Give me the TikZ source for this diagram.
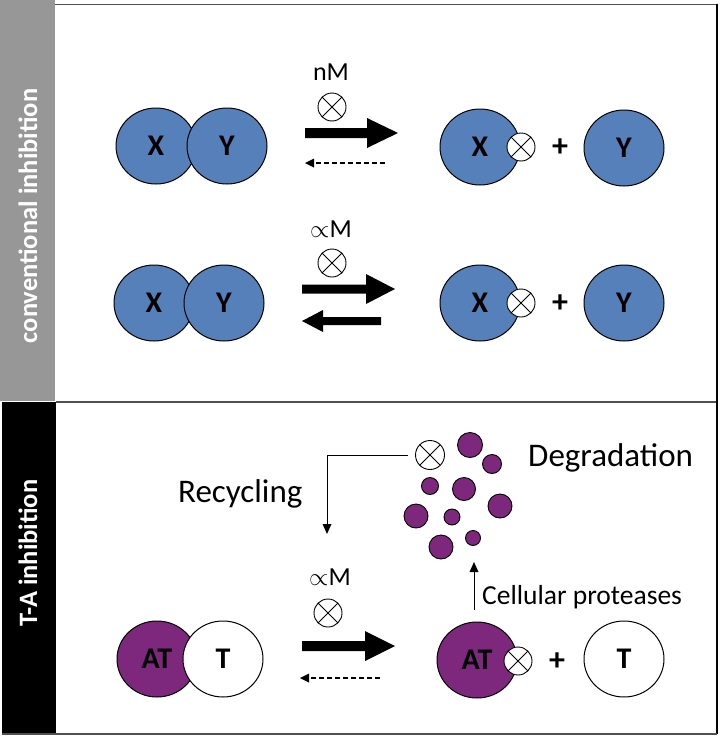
\documentclass[tikz,border=0pt]{standalone}
\usepackage{fontspec}
\setmainfont{Carlito}
\usepackage{tikz}
\usetikzlibrary{shapes.geometric,positioning}
\definecolor{protblue}{RGB}{86,128,186}
\definecolor{protpurple}{RGB}{125,40,125}
\definecolor{bargray}{RGB}{151,151,151}
\definecolor{framegray}{RGB}{80,80,80}

\begin{document}
\begin{tikzpicture}[x=1pt,y=1pt]
\tikzstyle{every node}+=[inner sep=0pt]
\tikzstyle{prot}=[ellipse,draw=black,line width=1pt,minimum width=80pt,minimum height=76pt,font=\fontsize{30}{34}\selectfont\bfseries]
\tikzstyle{inhib}=[circle,draw=black,fill=white,line width=0.9pt,minimum size=28pt,path picture={\draw[line width=0.9pt] (path picture bounding box.north west) -- (path picture bounding box.south east) (path picture bounding box.north east) -- (path picture bounding box.south west);}]
\tikzstyle{dot}=[circle,draw=black,fill=protpurple,line width=0.9pt]
\tikzstyle{lbl}=[font=\fontsize{26}{30}\selectfont]
\tikzstyle{plus}=[font=\fontsize{32}{34}\selectfont\bfseries]
\tikzstyle{sidelbl}=[rotate=90,text=white,font=\fontsize{26.5}{30}\selectfont\bfseries]
\useasboundingbox (0,0) rectangle (720,-736);
% side bars and frame
\fill [bargray] (0,0) rectangle (55,-401);
\fill [black] (2,-402) rectangle (56,-733);
\node [sidelbl] (convlbl) at (28,-216) {conventional inhibition};
\node [sidelbl] (talbl) at (28,-553) {T-A inhibition};
\draw [framegray,line width=1.8pt] (55,-4.5) -- (717,-4.5);
\draw [framegray,line width=1.8pt] (56,-402) -- (717,-402);
\draw [black,line width=1.2pt] (717,-4) -- (717,-734);
\draw [framegray,line width=1.2pt] (2,-734) -- (717,-734);
% row 1
\node [prot,fill=protblue] (x1) at (156,-146) {X};
\node [prot,fill=protblue] (y1) at (227,-146) {Y};
\node [lbl] (nm1) at (331,-72) {nM};
\node [inhib] (i1) at (332,-107) {};
\fill [black] (305,-128) -- (367,-128) -- (367,-118) -- (398,-133) -- (367,-148) -- (367,-138) -- (305,-138) -- cycle;
\coordinate (b1s) at (385,-163);
\coordinate (b1e) at (313,-163);
\draw [black,line width=1.1pt,dash pattern=on 5pt off 3pt] (b1s) -- (b1e);
\fill [black] (305,-163) -- (314,-158.5) -- (314,-167.5) -- cycle;
\node [prot,fill=protblue] (x1p) at (480,-147) {X};
\node [inhib] (i1p) at (521,-147) {};
\node [plus] (p1) at (560,-148) {+};
\node [prot,fill=protblue] (y1p) at (624,-148) {Y};
% row 2
\node [prot,fill=protblue] (x2) at (154,-303) {X};
\node [prot,fill=protblue] (y2) at (224,-303) {Y};
\node [lbl] (um2) at (331,-229) {\(\propto\)M};
\node [inhib] (i2) at (332,-263) {};
\fill [black] (302,-284.5) -- (366,-284.5) -- (366,-274) -- (395,-289) -- (366,-304) -- (366,-293.5) -- (302,-293.5) -- cycle;
\fill [black] (381,-317) -- (323,-317) -- (323,-310) -- (302,-321) -- (323,-332) -- (323,-325) -- (381,-325) -- cycle;
\node [prot,fill=protblue] (x2p) at (480,-303) {X};
\node [inhib] (i2p) at (521,-303) {};
\node [plus] (p2) at (560,-304) {+};
\node [prot,fill=protblue] (y2p) at (624,-303) {Y};
% T-A row
\node [prot,fill=protpurple] (at) at (157,-659) {AT};
\node [prot,fill=white] (t) at (223,-659) {T};
\node [lbl] (um3) at (330,-577) {\(\propto\)M};
\node [inhib] (i3) at (328,-613) {};
\fill [black] (302,-641) -- (365,-641) -- (365,-631) -- (395,-646) -- (365,-661) -- (365,-651) -- (302,-651) -- cycle;
\coordinate (b3s) at (380,-678);
\coordinate (b3e) at (308,-678);
\draw [black,line width=1.1pt,dash pattern=on 5pt off 3pt] (b3s) -- (b3e);
\fill [black] (300,-678) -- (309,-673.5) -- (309,-682.5) -- cycle;
\node [prot,fill=protpurple] (atp) at (477,-660) {AT};
\node [inhib] (i3p) at (518,-661) {};
\node [plus] (p3) at (557,-662) {+};
\node [prot,fill=white] (tp) at (624,-659) {T};
% degradation
\node [inhib,minimum size=29pt] (dg) at (430,-455) {};
\node [dot,minimum size=25pt] (d1) at (470,-445) {};
\node [dot,minimum size=19pt] (d2) at (492,-464) {};
\node [dot,minimum size=17pt] (d3) at (430,-486) {};
\node [dot,minimum size=23pt] (d4) at (464,-489) {};
\node [dot,minimum size=24pt] (d5) at (500,-506) {};
\node [dot,minimum size=24pt] (d6) at (416,-516) {};
\node [dot,minimum size=16pt] (d7) at (452,-517) {};
\node [dot,minimum size=24pt] (d8) at (441,-547) {};
\node [dot,minimum size=15pt] (d9) at (473,-538) {};
\node [anchor=west,font=\fontsize{33}{38}\selectfont] (deg) at (528,-458) {Degradation};
\node [anchor=base west,font=\fontsize{33}{38}\selectfont] (rec) at (178,-502) {Recycling};
\coordinate (rc) at (327,-525);
\draw [black,line width=0.9pt] ([xshift=-7pt]dg.west) -- (327,-455) -- (rc);
\fill [black] (327,-534) -- (322.5,-524) -- (331.5,-524) -- cycle;
\coordinate (cpa) at (474,-610);
\coordinate (cpb) at (474,-571);
\draw [black,line width=0.9pt] (cpa) -- (cpb);
\fill [black] (474,-562) -- (469.5,-572) -- (478.5,-572) -- cycle;
\node [anchor=west,font=\fontsize{27.5}{32}\selectfont] (cell) at (482,-597) {Cellular proteases};
\end{tikzpicture}
\end{document}
